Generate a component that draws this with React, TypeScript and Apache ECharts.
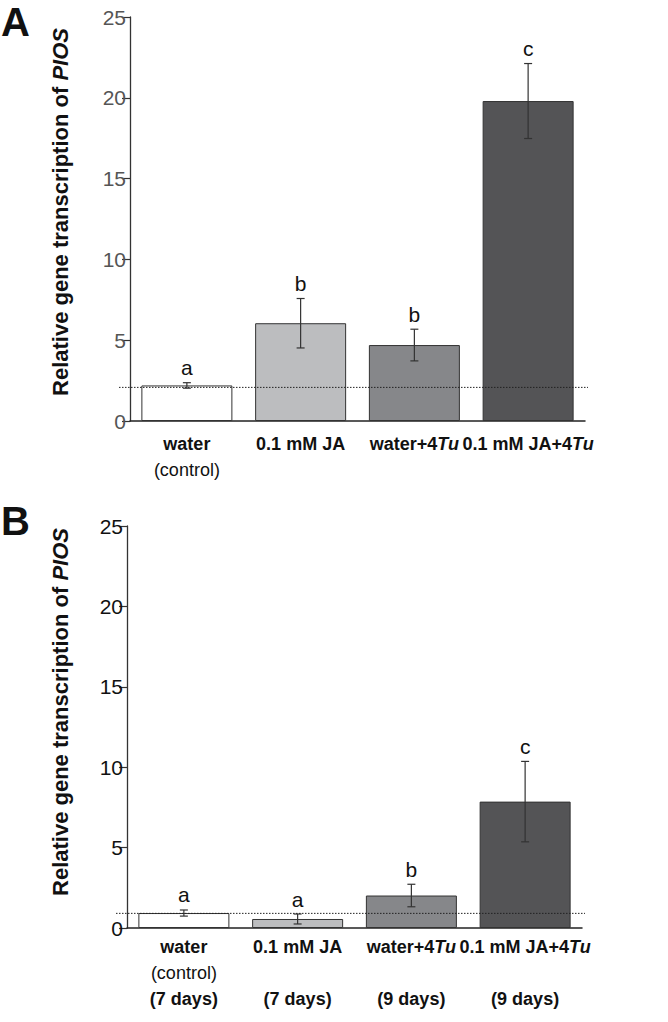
import React, { useEffect, useRef } from "react";
import * as echarts from "echarts";

const categories = ["water", "0.1 mM JA", "water+4Tu", "0.1 mM JA+4Tu"];
const subLabelsA = ["(control)", "", "", ""];
const subLabelsB = ["(control)", "", "", ""];
const daysB = ["(7 days)", "(7 days)", "(9 days)", "(9 days)"];

const meansA = [2.2, 6.05, 4.7, 19.8];
const errA = [0.17, 1.53, 0.98, 2.32];
const lettersA = ["a", "b", "b", "c"];
const refA = 2.08;

const meansB = [0.93, 0.56, 2.02, 7.86];
const errB = [0.19, 0.31, 0.7, 2.5];
const lettersB = ["a", "a", "b", "c"];
const refB = 0.91;

const yMin = 0;
const yMax = 25;
const yInterval = 5;

const yTitle = "Relative gene transcription of ";
const yTitleItalic = "PIOS";

const barColors = ["#ffffff", "#bcbdbf", "#86878a", "#545456"];

const FONT = "'Liberation Sans', Arial, Helvetica, sans-serif";

function catRich(name: string): string {
  const m = name.match(/^(.*)Tu$/);
  if (m) return `{b|${m[1]}}{bi|Tu}`;
  return `{b|${name}}`;
}

const LFS = 18;
const labelRich = {
  b: { fontFamily: FONT, fontSize: LFS, fontWeight: "bold", color: "#111", lineHeight: 26 },
  bi: { fontFamily: FONT, fontSize: LFS, fontWeight: "bold", fontStyle: "italic", color: "#111", lineHeight: 26 },
  n: { fontFamily: FONT, fontSize: LFS, fontWeight: "normal", color: "#111", lineHeight: 26 },
};

const nameRich = {
  t: { fontFamily: FONT, fontSize: 22, fontWeight: "bold", fill: "#111", color: "#111" },
  i: { fontFamily: FONT, fontSize: 22, fontWeight: "bold", fontStyle: "italic", fill: "#111", color: "#111" },
};

function errorSeries(idx: number, means: number[], errs: number[], letters: string[]) {
  return {
    type: "custom",
    xAxisIndex: idx,
    yAxisIndex: idx,
    clip: false,
    z: 5,
    data: means.map((m, i) => [i, m, errs[i]]),
    encode: { x: 0, y: 1 },
    renderItem: (params: any, api: any) => {
      const x = api.value(0);
      const m = api.value(1);
      const e = api.value(2);
      const top = api.coord([x, m + e]);
      const bot = api.coord([x, m - e]);
      const cx = top[0];
      const st = { stroke: "#333", lineWidth: 1.2 };
      return {
        type: "group",
        children: [
          { type: "line", shape: { x1: cx, y1: top[1], x2: cx, y2: bot[1] }, style: st },
          { type: "line", shape: { x1: cx - 4, y1: top[1], x2: cx + 4, y2: top[1] }, style: st },
          { type: "line", shape: { x1: cx - 4, y1: bot[1], x2: cx + 4, y2: bot[1] }, style: st },
          {
            type: "text",
            x: cx,
            y: top[1] - 15,
            style: {
              text: letters[params.dataIndex],
              fontFamily: FONT,
              fontSize: 21,
              fill: "#111",
              align: "center",
              verticalAlign: "middle",
            },
          },
        ],
      };
    },
  };
}

function refSeries(idx: number, ref: number) {
  return {
    type: "custom",
    xAxisIndex: idx,
    yAxisIndex: idx,
    clip: false,
    z: 6,
    data: [[0, ref]],
    encode: { x: 0, y: 1 },
    renderItem: (params: any, api: any) => {
      const y = api.coord([0, api.value(1)])[1];
      const cs = params.coordSys;
      return {
        type: "line",
        shape: { x1: cs.x - 11, y1: y, x2: cs.x + cs.width + 3, y2: y },
        style: { stroke: "#222", lineWidth: 1, lineDash: [1.5, 1.5] },
      };
    },
  };
}

function barSeries(idx: number, means: number[]) {
  return {
    type: "bar",
    xAxisIndex: idx,
    yAxisIndex: idx,
    barWidth: "80%",
    z: 2,
    data: means.map((v, i) => ({
      value: v,
      itemStyle: { color: barColors[i], borderColor: "#333", borderWidth: 1 },
    })),
  };
}

function yAxis(idx: number, labelColor: string) {
  return {
    type: "value",
    gridIndex: idx,
    min: yMin,
    max: yMax,
    interval: yInterval,
    axisLine: { show: true, lineStyle: { color: "#333", width: 1.3 } },
    axisTick: { show: true, length: 8, lineStyle: { color: "#333", width: 1.2 } },
    axisLabel: { fontFamily: FONT, fontSize: 21, color: labelColor, margin: 4 },
    splitLine: { show: false },
  };
}

function titleText(cx: number, cy: number) {
  return {
    type: "text",
    x: cx,
    y: cy,
    rotation: Math.PI / 2,
    style: {
      text: `{t|${yTitle}}{i|${yTitleItalic}}`,
      rich: nameRich,
      align: "center",
      verticalAlign: "middle",
    },
  };
}

export default function App() {
  const ref = useRef<HTMLDivElement>(null);
  useEffect(() => {
    document.body.style.margin = "0";
    if (!ref.current) return;
    const chart = echarts.init(ref.current, undefined, { renderer: "svg" });
    chart.setOption({
      animation: false,
      backgroundColor: "#ffffff",
      grid: [
        { left: 130, top: 17, width: 455, height: 404 },
        { left: 127, top: 526, width: 455, height: 402 },
      ],
      xAxis: [
        {
          type: "category",
          gridIndex: 0,
          data: categories,
          axisLine: { lineStyle: { color: "#222", width: 1.5 } },
          axisTick: { show: false },
          axisLabel: {
            margin: 10,
            interval: 0,
            formatter: (v: string, i: number) =>
              catRich(v) + (subLabelsA[i] ? `\n{n|${subLabelsA[i]}}` : ""),
            rich: labelRich,
          },
        },
        {
          type: "category",
          gridIndex: 1,
          data: categories,
          axisLine: { lineStyle: { color: "#222", width: 1.5 } },
          axisTick: { show: false },
          axisLabel: {
            margin: 6,
            interval: 0,
            formatter: (v: string, i: number) =>
              catRich(v) + `\n{n|${subLabelsB[i] || " "}}` + `\n{b|${daysB[i]}}`,
            rich: labelRich,
          },
        },
      ],
      yAxis: [yAxis(0, "#555"), yAxis(1, "#111")],
      graphic: [
        {
          type: "text",
          x: 1,
          y: 22,
          style: { text: "A", fontFamily: FONT, fontSize: 40, fontWeight: "bold", fill: "#111", verticalAlign: "middle" },
        },
        {
          type: "text",
          x: 1,
          y: 521,
          style: { text: "B", fontFamily: FONT, fontSize: 40, fontWeight: "bold", fill: "#111", verticalAlign: "middle" },
        },
        titleText(60, 212),
        titleText(60, 712),
      ],
      series: [
        barSeries(0, meansA),
        errorSeries(0, meansA, errA, lettersA),
        refSeries(0, refA),
        barSeries(1, meansB),
        errorSeries(1, meansB, errB, lettersB),
        refSeries(1, refB),
      ],
    });
    return () => chart.dispose();
  }, []);
  return <div ref={ref} style={{ width: 668, height: 1022 }} />;
}
